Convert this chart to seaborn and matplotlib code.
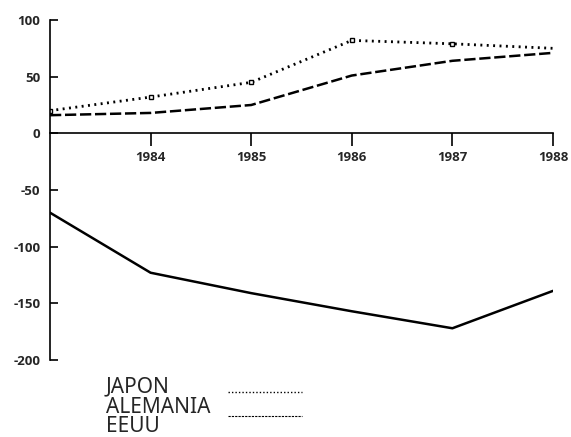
import matplotlib
matplotlib.use("Agg")
import matplotlib.pyplot as plt
import seaborn as sns
import pandas as pd
from matplotlib.lines import Line2D

years = [1983, 1984, 1985, 1986, 1987, 1988]
japon = [20, 32, 45, 82, 79, 75]
alemania = [16, 18, 25, 51, 64, 71]
eeuu = [-70, -123, -141, -157, -172, -139]
year_ticks = [1984, 1985, 1986, 1987, 1988]
y_ticks = [100, 50, 0, -50, -100, -150, -200]
legend_labels = ["JAPON", "ALEMANIA", "EEUU"]

sns.set_style("white")
plt.rcParams['font.family'] = ['Open Sans', 'DejaVu Sans']

W, H = 571, 437
fig = plt.figure(figsize=(W / 100, H / 100), dpi=100)
ax = fig.add_axes([50 / W, 1 - 360 / H, (553 - 50) / W, (360 - 20) / H])

df = pd.DataFrame({"year": years, "JAPON": japon, "ALEMANIA": alemania, "EEUU": eeuu})

sns.lineplot(data=df, x="year", y="JAPON", ax=ax, color="black", lw=2.0,
             linestyle=(0, (0.7, 1.6)), marker="s", markersize=3.5,
             markerfacecolor="white", markeredgecolor="black", markeredgewidth=1,
             markevery=[0, 1, 2, 3, 4])
sns.lineplot(data=df, x="year", y="ALEMANIA", ax=ax, color="black", lw=1.8,
             linestyle=(0, (4.5, 1.5)))
sns.lineplot(data=df, x="year", y="EEUU", ax=ax, color="black", lw=1.8)

ax.set_xlim(1983, 1988)
ax.set_ylim(-200, 100)
ax.set_xlabel("")
ax.set_ylabel("")

for s in ["top", "right"]:
    ax.spines[s].set_visible(False)
ax.spines["bottom"].set_position(("data", 0))
ax.spines["bottom"].set_color("black")
ax.spines["bottom"].set_linewidth(1.2)
ax.spines["left"].set_color("black")
ax.spines["left"].set_linewidth(1.2)

ax.set_xticks(year_ticks)
ax.set_xticklabels([str(y) for y in year_ticks], fontsize=9.5, fontweight="bold")
ax.set_yticks(y_ticks)
ax.set_yticklabels([str(v) for v in y_ticks], fontsize=9.5, fontweight="bold")
ax.tick_params(axis="x", direction="out", length=9, width=1.2, pad=4, bottom=True, color="black")
ax.tick_params(axis="y", direction="in", length=6, width=1.2, pad=7, left=True, color="black")
ax.grid(False)

# legend
baselines = [392, 413, 432]
for lab, b in zip(legend_labels, baselines):
    fig.text(106 / W, 1 - b / H, lab, fontsize=15, family=["Noto Sans", "DejaVu Sans"],
             ha="left", va="baseline")
fig.add_artist(Line2D([228 / W, 302 / W], [1 - 392 / H] * 2, color="black", lw=1.0,
                      linestyle=(0, (1, 1.5)), transform=fig.transFigure))
fig.add_artist(Line2D([228 / W, 302 / W], [1 - 416 / H] * 2, color="black", lw=0.8,
                      linestyle=(0, (2, 1)), transform=fig.transFigure))

fig.savefig("out.png", dpi=100)
